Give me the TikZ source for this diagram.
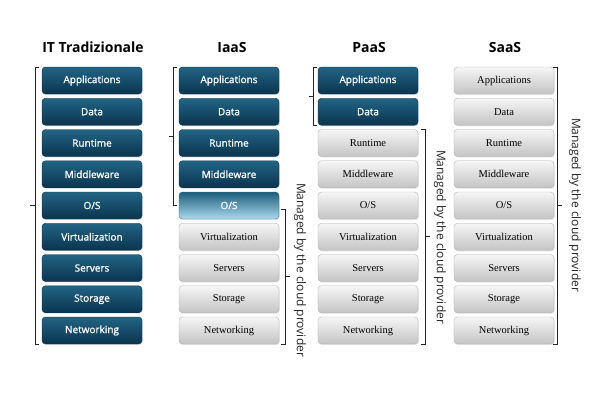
\documentclass[tikz,border=0pt]{standalone}
\usepackage{fontspec}
\setmainfont{Liberation Serif}
\newfontfamily\boxsans{Open Sans}
\newfontfamily\boxsanssemi{Open Sans}[FakeBold=1.2]
\newfontfamily\boxserif{Liberation Serif}
\usetikzlibrary{shadows}
\definecolor{darktop}{RGB}{34,100,132}
\definecolor{darkbot}{RGB}{10,52,78}
\definecolor{darkline}{RGB}{12,48,70}
\definecolor{lighttop}{RGB}{246,246,246}
\definecolor{lightbot}{RGB}{196,196,196}
\definecolor{lightline}{RGB}{178,178,178}
\definecolor{ostop}{RGB}{28,92,124}
\definecolor{osbot}{RGB}{170,218,238}
\definecolor{brk}{RGB}{35,35,35}
\tikzset{
  stackbox/.style={rounded corners=3.5pt, minimum width=100pt, minimum height=27pt, inner sep=0pt,
    drop shadow={opacity=0.18, shadow xshift=0.8pt, shadow yshift=-1.2pt}},
  darkbox/.style={stackbox, top color=darktop, bottom color=darkbot, draw=darkline, line width=0.4pt,
    text=white, font=\boxsanssemi\fontsize{10}{12}\selectfont},
  lightbox/.style={stackbox, top color=lighttop, bottom color=lightbot, draw=lightline, line width=0.4pt,
    text=black, font=\boxserif\fontsize{10.5}{12}\selectfont},
  osbox/.style={stackbox, top color=ostop, bottom color=osbot, draw=darkline!70, line width=0.4pt,
    text=white, font=\boxsanssemi\fontsize{10}{12}\selectfont},
  coltitle/.style={font=\boxsans\bfseries\fontsize{14}{16}\selectfont, text=black},
  managed/.style={rotate=-90, font=\boxsans\fontsize{12}{14}\selectfont, text=black!85},
  bracket/.style={draw=brk, line width=0.8pt}
}
\begin{document}
\begin{tikzpicture}[x=1pt,y=-1pt]
\useasboundingbox[fill=white] (0,0) rectangle (600,400);
% titles
\node[coltitle] (t1) at (93,47) {IT Tradizionale};
\node[coltitle] (t2) at (232,47) {IaaS};
\node[coltitle] (t3) at (369,47) {PaaS};
\node[coltitle] (t4) at (505,47) {SaaS};
% IT Tradizionale
\node[darkbox] (a1) at (92,80.5) {Applications};
\node[darkbox] (a2) at (92,111.75) {Data};
\node[darkbox] (a3) at (92,143) {Runtime};
\node[darkbox] (a4) at (92,174.25) {Middleware};
\node[darkbox] (a5) at (92,205.5) {O/S};
\node[darkbox] (a6) at (92,236.75) {Virtualization};
\node[darkbox] (a7) at (92,268) {Servers};
\node[darkbox] (a8) at (92,299.25) {Storage};
\node[darkbox] (a9) at (92,330.5) {Networking};
% IaaS
\node[darkbox] (b1) at (229,80.5) {Applications};
\node[darkbox] (b2) at (229,111.75) {Data};
\node[darkbox] (b3) at (229,143) {Runtime};
\node[darkbox] (b4) at (229,174.25) {Middleware};
\node[osbox] (b5) at (229,205.5) {O/S};
\node[lightbox] (b6) at (229,236.75) {Virtualization};
\node[lightbox] (b7) at (229,268) {Servers};
\node[lightbox] (b8) at (229,299.25) {Storage};
\node[lightbox] (b9) at (229,330.5) {Networking};
% PaaS
\node[darkbox] (c1) at (368,80.5) {Applications};
\node[darkbox] (c2) at (368,111.75) {Data};
\node[lightbox] (c3) at (368,143) {Runtime};
\node[lightbox] (c4) at (368,174.25) {Middleware};
\node[lightbox] (c5) at (368,205.5) {O/S};
\node[lightbox] (c6) at (368,236.75) {Virtualization};
\node[lightbox] (c7) at (368,268) {Servers};
\node[lightbox] (c8) at (368,299.25) {Storage};
\node[lightbox] (c9) at (368,330.5) {Networking};
% SaaS
\node[lightbox] (d1) at (504,80.5) {Applications};
\node[lightbox] (d2) at (504,111.75) {Data};
\node[lightbox] (d3) at (504,143) {Runtime};
\node[lightbox] (d4) at (504,174.25) {Middleware};
\node[lightbox] (d5) at (504,205.5) {O/S};
\node[lightbox] (d6) at (504,236.75) {Virtualization};
\node[lightbox] (d7) at (504,268) {Servers};
\node[lightbox] (d8) at (504,299.25) {Storage};
\node[lightbox] (d9) at (504,330.5) {Networking};
% brackets
\draw[bracket] (39,67) -- (35,67) -- (35,344) -- (39,344);
\draw[bracket] (35,205.5) -- (30,205.5);
\draw[bracket] (177,67) -- (173,67) -- (173,205) -- (177,205);
\draw[bracket] (173,136) -- (169,136);
\draw[bracket] (281,209) -- (285,209) -- (285,344) -- (281,344);
\draw[bracket] (285,276.5) -- (290,276.5);
\draw[bracket] (317,67) -- (313,67) -- (313,125) -- (317,125);
\draw[bracket] (313,96) -- (309,96);
\draw[bracket] (421,129) -- (425,129) -- (425,344) -- (421,344);
\draw[bracket] (425,236.5) -- (430,236.5);
\draw[bracket] (553,67) -- (557,67) -- (557,344) -- (553,344);
\draw[bracket] (557,205.5) -- (562,205.5);
% labels
\node[managed] (m2) at (300,270) {Managed by the cloud provider};
\node[managed] (m3) at (440,237) {Managed by the cloud provider};
\node[managed] (m4) at (575,205) {Managed by the cloud provider};
\end{tikzpicture}
\end{document}
